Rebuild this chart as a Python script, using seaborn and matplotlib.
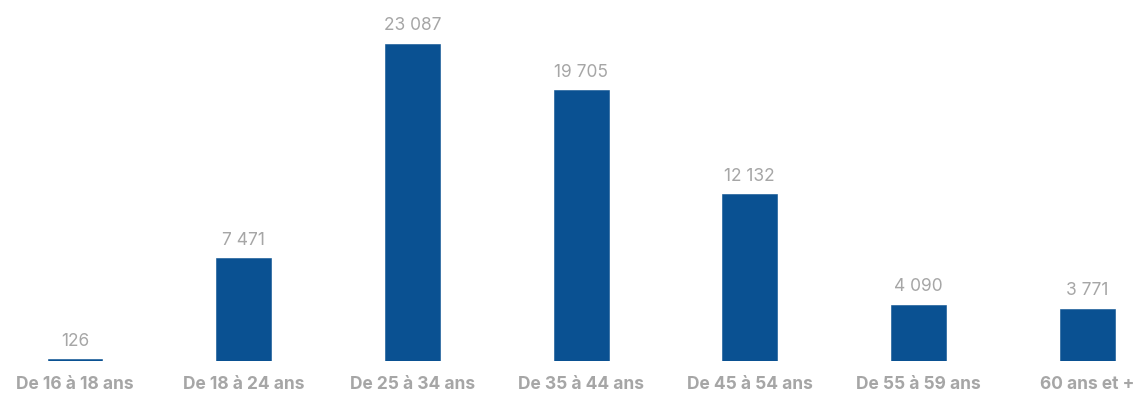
import matplotlib
matplotlib.use("Agg")
import matplotlib.pyplot as plt
import seaborn as sns
import pandas as pd

categories = ["De 16 à 18 ans", "De 18 à 24 ans", "De 25 à 34 ans", "De 35 à 44 ans",
              "De 45 à 54 ans", "De 55 à 59 ans", "60 ans et +"]
values = [126, 7471, 23087, 19705, 12132, 4090, 3771]

BAR_COLOR = "#0a5192"
TEXT_COLOR = "#a6a6a6"

sns.set_theme(style="white")
plt.rcParams["font.family"] = ["Inter", "DejaVu Sans"]

df = pd.DataFrame({"tranche": categories, "effectif": values})

fig = plt.figure(figsize=(11.36, 3.96), dpi=100)
ax = fig.add_axes([0, 35 / 396, 1, 1 - 35 / 396])

sns.barplot(data=df, x="tranche", y="effectif", color=BAR_COLOR, width=0.326,
            saturation=1, linewidth=0.4, edgecolor=BAR_COLOR, ax=ax)

step = 168.7
ax.set_xlim(-75 / step, (1136 - 75) / step)
ax.set_ylim(0, 361 / (317 / 23087))

for i, v in enumerate(values):
    label = f"{v:,}".replace(",", " ")
    ax.annotate(label, (i, v), xytext=(0, 7), textcoords="offset points",
                ha="center", va="bottom", fontsize=12.5, color=TEXT_COLOR)

ax.set_xlabel("")
ax.set_ylabel("")
ax.set_yticks([])
ax.set_xticks(range(len(categories)))
ax.set_xticklabels(categories, fontweight="bold", fontsize=12.5, color=TEXT_COLOR)
ax.tick_params(axis="x", length=0, pad=11)
for s in ax.spines.values():
    s.set_visible(False)

fig.savefig("out.png", dpi=100)
